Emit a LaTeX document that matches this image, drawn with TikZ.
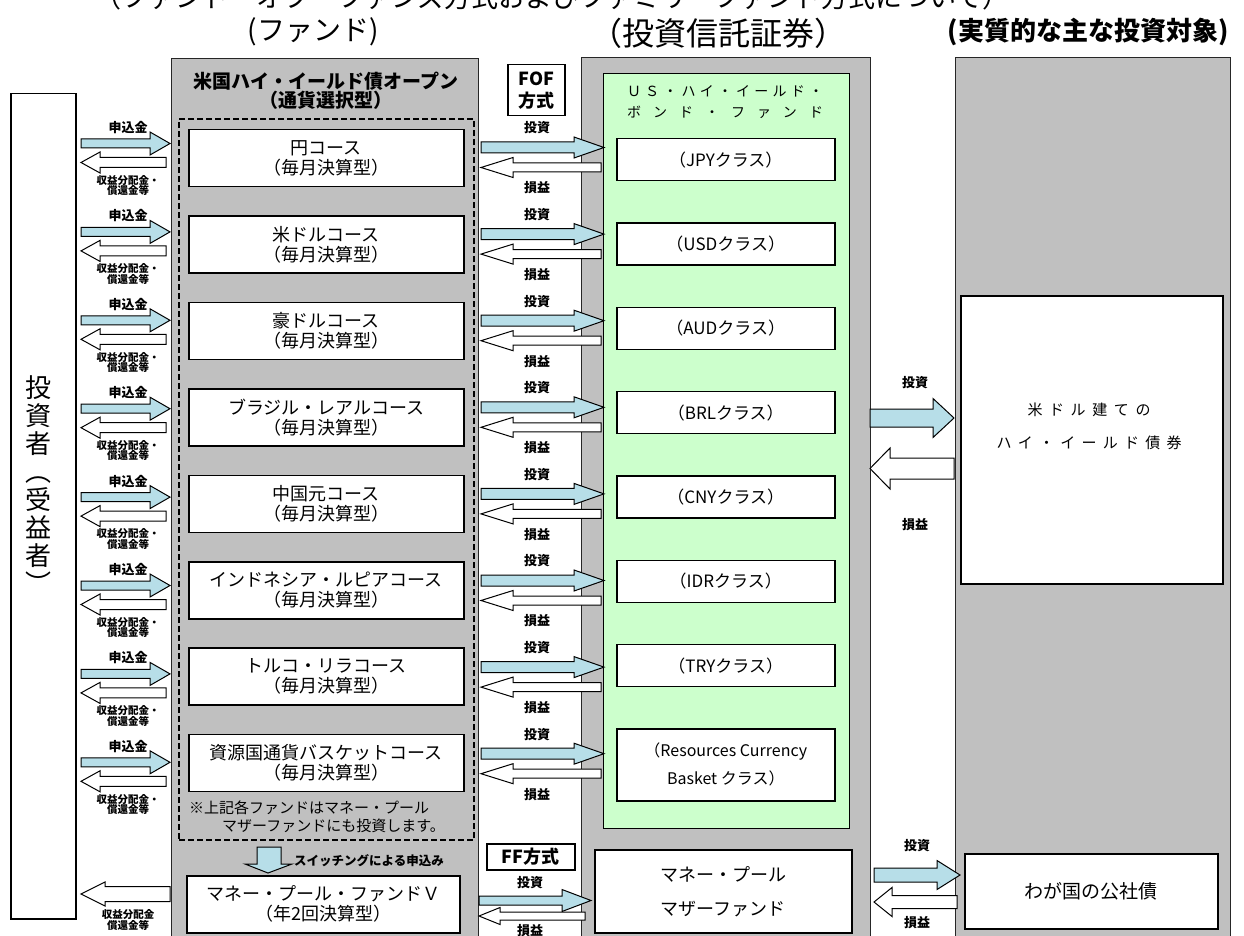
\documentclass[tikz,border=0pt]{standalone}
\usepackage{fontspec}
\setmainfont{Noto Sans CJK JP}
\definecolor{gbox}{HTML}{C0C0C0}
\definecolor{lblue}{HTML}{B7DEE8}
\definecolor{lgreen}{HTML}{CCFFCC}
\newcommand\fsz[2]{\fontsize{#1}{#2}\selectfont}
% right/left pointing block arrow: tail x, tip x, head-base x, centre y, shaft half, head half, fill
\newcommand\bkarrow[7]{\draw[arr,fill=#7] (#1,#4-#5) -- (#3,#4-#5) -- (#3,#4-#6) -- (#2,#4) -- (#3,#4+#6) -- (#3,#4+#5) -- (#1,#4+#5) -- cycle;}
\begin{document}
\begin{tikzpicture}[x=1pt,y=-1pt,
  panel/.style={draw=black!85,line width=1.3pt,fill=gbox,inner sep=0pt,anchor=north west},
  box/.style={draw=black,line width=1.5pt,fill=white,inner sep=0pt,align=center,anchor=north west},
  arr/.style={draw=black,line width=1pt,line join=miter},
  lab/.style={font=\bfseries\fsz{13}{14},inner sep=0pt},
  labs/.style={font=\bfseries\fsz{10.5}{10.5},inner sep=0pt,align=center},
  head/.style={inner sep=0pt}]
\useasboundingbox (0,0) rectangle (1244,936);
\fill[white] (0,0) rectangle (1244,936);

% titles
\node[head,anchor=base,font=\fsz{27}{30}] (title) at (552,8) {（ファンド・オブ・ファンズ方式およびファミリーファンド方式について）};
\node[head,font=\fsz{28}{30}] (h1) at (313,32) {(ファンド)};
\node[head,font=\fsz{32}{34}] (h2) at (718,33) {（投資信託証券）};
\node[head,font=\bfseries\fsz{26}{28}] (h3) at (1088,32) {(実質的な主な投資対象)};

% panels
\node[box,minimum width=65pt,minimum height=825pt] (inv) at (10,93) {};
\node[head,font=\fsz{26}{28},align=center] (invt) at (38,485) {投\\資\\者\\︵\\受\\益\\者\\︶};
\node[panel,minimum width=307pt,minimum height=892pt] (fund) at (171,58) {};
\node[panel,minimum width=289pt,minimum height=892pt] (mid) at (581,57) {};
\node[panel,minimum width=275pt,minimum height=892pt] (right) at (955,57) {};
\node[draw=black,line width=1.3pt,fill=lgreen,anchor=north west,minimum width=246pt,minimum height=755pt,inner sep=0pt] (green) at (603,73) {};

% fund title and group
\node[head,font=\bfseries\fsz{19}{19},align=center] (ftitle) at (326,91) {米国ハイ・イールド債オープン\\（通貨選択型）};
\node[draw=black,line width=2.2pt,dash pattern=on 6pt off 3pt,anchor=north west,minimum width=295pt,minimum height=721pt,inner sep=0pt] (grp) at (178,118) {};

% courses
\foreach \i/\nm in {0/円コース,1/米ドルコース,2/豪ドルコース,3/ブラジル・レアルコース,4/中国元コース,5/インドネシア・ルピアコース,6/トルコ・リラコース,7/資源国通貨バスケットコース}{
  \pgfmathsetmacro\ty{129+86.4*\i}
  \node[box,minimum width=275pt,minimum height=57pt,font=\fsz{18}{20}] (c\i) at (188,\ty) {\nm\\（毎月決算型）};
}
\node[head,anchor=west,align=left,font=\fsz{15}{18}] (note) at (189,817) {※上記各ファンドはマネー・プール\\\hspace*{33pt}マザーファンドにも投資します。};

% switching
\draw[arr,fill=lblue] (257,847) -- (281,847) -- (281,864) -- (292,864) -- (268,873) -- (245,864) -- (257,864) -- cycle;
\node[head,anchor=west,font=\bfseries\fsz{12.5}{13}] (sw) at (294,861) {スイッチングによる申込み};
\node[box,minimum width=273pt,minimum height=57pt,font=\fsz{18}{20}] (mpf) at (186,875) {マネー・プール・ファンドＶ\\（年2回決算型）};

% left arrows
\foreach \i in {0,...,7}{
  \pgfmathsetmacro\cy{143.5+88.4*\i}
  \bkarrow{81}{170}{150}{\cy}{4.5}{11.5}{lblue}
  \bkarrow{166}{81}{100}{\cy+19}{5}{10.5}{white}
  \node[lab] (in\i) at (128,\cy-16) {申込金};
  \node[labs] (out\i) at (128,\cy+42) {収益分配金・\\償還金等};
}
\bkarrow{170}{81}{105}{894}{7.5}{12}{white}
\node[labs] (outm) at (128,920) {収益分配金\\償還金等};

% FOF / FF
\node[box,minimum width=57pt,minimum height=51pt,font=\bfseries\fsz{18}{22}] (fof) at (507,64) {FOF\\方式};
\node[box,minimum width=88pt,minimum height=26pt,font=\bfseries\fsz{18}{20}] (ff) at (486,843) {FF方式};

% classes
\node[head,font=\fsz{14}{21},align=center] (ushy) at (725,102.5) {\makebox[196pt][s]{Ｕ\hfill Ｓ\hfill ・\hfill ハ\hfill イ\hfill ・\hfill イ\hfill ー\hfill ル\hfill ド\hfill ・}\\\makebox[196pt][s]{ボ\hfill ン\hfill ド\hfill ・\hfill フ\hfill ァ\hfill ン\hfill ド}};
\foreach \i/\cur in {0/JPY,1/USD,2/AUD,3/BRL,4/CNY,5/IDR,6/TRY}{
  \pgfmathsetmacro\ty{138+84.3*\i}
  \node[box,minimum width=218pt,minimum height=42pt,font=\fsz{17}{18}] (k\i) at (616,\ty) {（\cur クラス）};
}
\node[box,minimum width=218pt,minimum height=72pt,font=\fsz{16}{28}] (k7) at (616,728) {（Resources Currency\\Basket クラス）};

% middle arrows
\foreach \i in {0,...,7}{
  \pgfmathsetmacro\cy{147.5+86.6*\i}
  \bkarrow{481}{604}{574}{\cy}{5.5}{10.5}{lblue}
  \bkarrow{601}{481}{513}{\cy+20}{4.5}{10}{white}
  \node[lab] (inv\i) at (537,\cy-19.5) {投資};
  \node[lab] (ret\i) at (537,\cy+40.5) {損益};
}
\bkarrow{479}{591}{562}{900.5}{4.5}{11}{lblue}
\bkarrow{585}{479}{500}{916}{4}{8.5}{white}
\node[lab] (invf) at (530,883) {投資};
\node[lab] (retf) at (530,931) {損益};

\node[box,minimum width=257pt,minimum height=83pt,font=\fsz{18}{34}] (mmf) at (594,849) {マネー・プール\\マザーファンド};

% right side
\node[box,minimum width=262pt,minimum height=288pt] (hy) at (960,295) {};
\node[head,font=\fsz{15}{33},align=center] (hyt) at (1089,426.5) {\makebox[123pt][s]{米\hfill ド\hfill ル\hfill 建\hfill て\hfill の}\\\makebox[185pt][s]{ハ\hfill イ\hfill ・\hfill イ\hfill ー\hfill ル\hfill ド\hfill 債\hfill 券}};
\bkarrow{870}{954}{933}{418}{9}{19.5}{lblue}
\bkarrow{954}{870}{890}{468.5}{10.5}{20.5}{white}
\node[lab] (inv9) at (915,383) {投資};
\node[lab] (ret9) at (915,525) {損益};

\node[box,minimum width=253pt,minimum height=75pt,font=\fsz{19}{20}] (jgb) at (964,853) {わが国の公社債};
\bkarrow{874}{960}{937}{875}{7}{14.5}{lblue}
\bkarrow{957}{874}{892}{902}{6.5}{14.5}{white}
\node[lab] (inv10) at (917,846) {投資};
\node[lab] (ret10) at (917,923) {損益};
\end{tikzpicture}
\end{document}
